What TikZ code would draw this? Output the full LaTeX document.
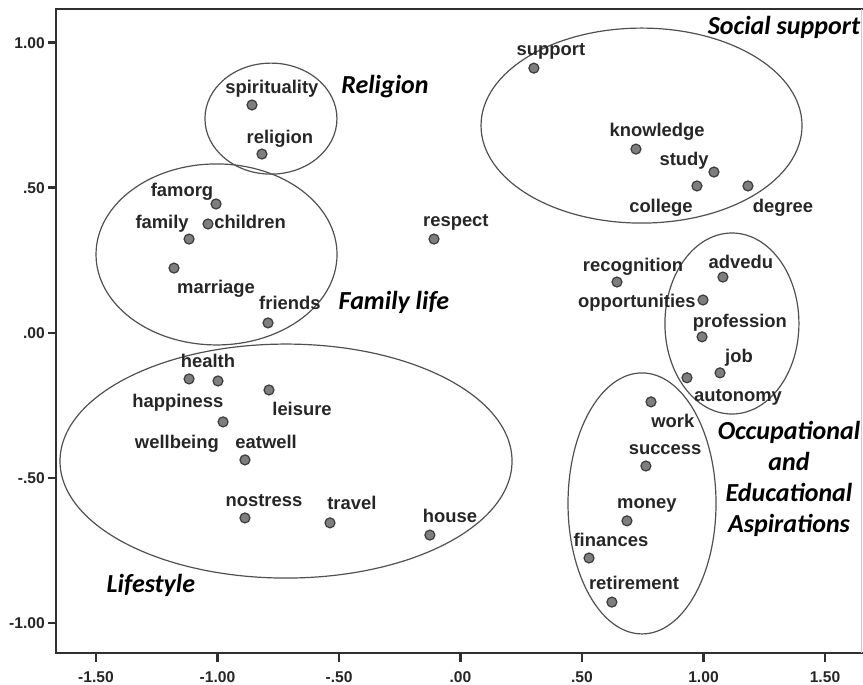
\documentclass[tikz,border=0pt]{standalone}
\usepackage{fontspec}
\setmainfont{Liberation Sans}
\newfontfamily\groupfont{Carlito}
\usetikzlibrary{positioning}
\definecolor{axisgray}{HTML}{303030}
\definecolor{linegray}{HTML}{505050}
\definecolor{dotfill}{HTML}{7E7E7E}
\definecolor{dotborder}{HTML}{3C3C3C}
\definecolor{textgray}{HTML}{262626}
\tikzstyle{axis} = [line width=1.2pt, draw=axisgray]
\tikzstyle{ticklabel} = [font=\fontsize{7.8}{9}\selectfont\bfseries, text=textgray, inner sep=0pt, text height=5.6pt, text depth=0pt]
\tikzstyle{cluster} = [line width=0.6pt, draw=linegray]
\tikzstyle{dot} = [circle, draw=dotborder, fill=dotfill, line width=0.6pt, minimum size=5pt, inner sep=0pt]
\tikzstyle{term} = [font=\fontsize{9.2}{11}\selectfont\bfseries, text=textgray, inner sep=0pt, text height=9pt, text depth=2pt]
\tikzstyle{group} = [font=\groupfont\fontsize{13}{15.5}\selectfont\bfseries\itshape, text=black, inner sep=0pt, align=center]

\begin{document}
\begin{tikzpicture}[x=121.5pt, y=145.1pt]
		\useasboundingbox (-1.89506,-1.21365) rectangle (1.65638,1.14680);
		
		% frame and axes
		\draw [axis] (1.66,1.1158) -- (-1.6646,1.1158) -- (-1.6646,-1.1034) -- (1.66,-1.1034);
		\draw [line width=0.5pt, draw=black!20] (1.652,1.1158) -- (1.652,-1.1034);
		
		\draw [axis] (-1.6646,1) -- ++(-4pt,0) node (TickY1) [ticklabel, left=1pt] {1.00};
		\draw [axis] (-1.6646,0.5) -- ++(-4pt,0) node (TickY2) [ticklabel, left=1pt] {.50};
		\draw [axis] (-1.6646,0) -- ++(-4pt,0) node (TickY3) [ticklabel, left=1pt] {.00};
		\draw [axis] (-1.6646,-0.5) -- ++(-4pt,0) node (TickY4) [ticklabel, left=1pt] {-.50};
		\draw [axis] (-1.6646,-1) -- ++(-4pt,0) node (TickY5) [ticklabel, left=1pt] {-1.00};
		
		\draw [axis] (-1.5,-1.1034) -- ++(0,-4.5pt) node (TickX1) [ticklabel, below=4pt] {-1.50};
		\draw [axis] (-1,-1.1034) -- ++(0,-4.5pt) node (TickX2) [ticklabel, below=4pt] {-1.00};
		\draw [axis] (-0.5,-1.1034) -- ++(0,-4.5pt) node (TickX3) [ticklabel, below=4pt] {-.50};
		\draw [axis] (0,-1.1034) -- ++(0,-4.5pt) node (TickX4) [ticklabel, below=4pt] {.00};
		\draw [axis] (0.5,-1.1034) -- ++(0,-4.5pt) node (TickX5) [ticklabel, below=4pt] {.50};
		\draw [axis] (1,-1.1034) -- ++(0,-4.5pt) node (TickX6) [ticklabel, below=4pt] {1.00};
		\draw [axis] (1.5,-1.1034) -- ++(0,-4.5pt) node (TickX7) [ticklabel, below=4pt] {1.50};
		
		% clusters
		\draw [cluster] (-0.780,0.738) ellipse [x radius=33pt, y radius=27.75pt];
		\draw [cluster] (-1.004,0.270) ellipse [x radius=60.25pt, y radius=45.25pt];
		\draw [cluster] (0.745,0.714) ellipse [x radius=80.25pt, y radius=48.75pt];
		\draw [cluster] (1.117,0.032) ellipse [x radius=33.5pt, y radius=45.25pt];
		\draw [cluster] (0.747,-0.588) ellipse [x radius=37pt, y radius=65.25pt];
		\draw [cluster] (-0.718,-0.442) ellipse [x radius=113pt, y radius=58.5pt];
		
		% points
		\node (Support) [dot] at (0.302,0.912) {};
		\node (Spirituality) [dot] at (-0.858,0.785) {};
		\node (Religion) [dot] at (-0.817,0.616) {};
		\node (Famorg) [dot] at (-1.006,0.444) {};
		\node (Children) [dot] at (-1.039,0.375) {};
		\node (Family) [dot] at (-1.117,0.323) {};
		\node (Marriage) [dot] at (-1.179,0.223) {};
		\node (Friends) [dot] at (-0.792,0.034) {};
		\node (Respect) [dot] at (-0.109,0.323) {};
		\node (Knowledge) [dot] at (0.722,0.633) {};
		\node (Study) [dot] at (1.043,0.554) {};
		\node (College) [dot] at (0.973,0.506) {};
		\node (Degree) [dot] at (1.183,0.506) {};
		\node (Recognition) [dot] at (0.644,0.175) {};
		\node (Advedu) [dot] at (1.080,0.192) {};
		\node (Opportunities) [dot] at (0.998,0.113) {};
		\node (Profession) [dot] at (0.994,-0.014) {};
		\node (Job) [dot] at (1.068,-0.138) {};
		\node (Autonomy) [dot] at (0.932,-0.155) {};
		\node (Work) [dot] at (0.784,-0.238) {};
		\node (Success) [dot] at (0.763,-0.459) {};
		\node (Money) [dot] at (0.685,-0.648) {};
		\node (Finances) [dot] at (0.529,-0.776) {};
		\node (Retirement) [dot] at (0.623,-0.928) {};
		\node (Health) [dot] at (-1.117,-0.159) {};
		\node (Happiness) [dot] at (-0.998,-0.166) {};
		\node (Leisure) [dot] at (-0.788,-0.197) {};
		\node (Wellbeing) [dot] at (-0.977,-0.307) {};
		\node (Eatwell) [dot] at (-0.887,-0.438) {};
		\node (Nostress) [dot] at (-0.887,-0.638) {};
		\node (Travel) [dot] at (-0.537,-0.655) {};
		\node (House) [dot] at (-0.126,-0.697) {};
		
		% point labels
		\node (SupportLabel) [term] at (0.372,0.978) {support};
		\node (SpiritualityLabel) [term] at (-0.776,0.847) {spirituality};
		\node (ReligionLabel) [term] at (-0.743,0.675) {religion};
		\node (FamorgLabel) [term] at (-1.146,0.494) {famorg};
		\node (FamilyLabel) [term] at (-1.228,0.382) {family};
		\node (ChildrenLabel) [term] at (-0.866,0.382) {children};
		\node (MarriageLabel) [term] at (-1.006,0.158) {marriage};
		\node (FriendsLabel) [term] at (-0.702,0.103) {friends};
		\node (RespectLabel) [term] at (-0.019,0.389) {respect};
		\node (KnowledgeLabel) [term] at (0.809,0.699) {knowledge};
		\node (StudyLabel) [term] at (0.920,0.602) {study};
		\node (CollegeLabel) [term] at (0.825,0.437) {college};
		\node (DegreeLabel) [term] at (1.327,0.437) {degree};
		\node (RecognitionLabel) [term] at (0.710,0.237) {recognition};
		\node (AdveduLabel) [term] at (1.154,0.247) {advedu};
		\node (OpportunitiesLabel) [term] at (0.726,0.110) {opportunities};
		\node (ProfessionLabel) [term] at (1.150,0.044) {profession};
		\node (JobLabel) [term] at (1.146,-0.077) {job};
		\node (AutonomyLabel) [term] at (1.142,-0.214) {autonomy};
		\node (WorkLabel) [term] at (0.874,-0.301) {work};
		\node (SuccessLabel) [term] at (0.842,-0.394) {success};
		\node (MoneyLabel) [term] at (0.767,-0.583) {money};
		\node (FinancesLabel) [term] at (0.619,-0.711) {finances};
		\node (RetirementLabel) [term] at (0.714,-0.862) {retirement};
		\node (HealthLabel) [term] at (-1.039,-0.094) {health};
		\node (HappinessLabel) [term] at (-1.163,-0.235) {happiness};
		\node (LeisureLabel) [term] at (-0.652,-0.262) {leisure};
		\node (WellbeingLabel) [term] at (-1.167,-0.373) {wellbeing};
		\node (EatwellLabel) [term] at (-0.800,-0.373) {eatwell};
		\node (NostressLabel) [term] at (-0.809,-0.576) {nostress};
		\node (TravelLabel) [term] at (-0.447,-0.586) {travel};
		\node (HouseLabel) [term] at (-0.043,-0.631) {house};
		
		% cluster names
		\node (ReligionGroup) [group] at (-0.311,0.847) {Religion};
		\node (FamilyGroup) [group] at (-0.274,0.106) {Family life};
		\node (SocialGroup) [group] at (1.331,1.054) {Social support};
		\node (LifestyleGroup) [group] at (-1.274,-0.869) {Lifestyle};
		\node (AspirationsGroup) [group] at (1.352,-0.502) {Occupational\\and\\Educational\\Aspirations};
\end{tikzpicture}
\end{document}
